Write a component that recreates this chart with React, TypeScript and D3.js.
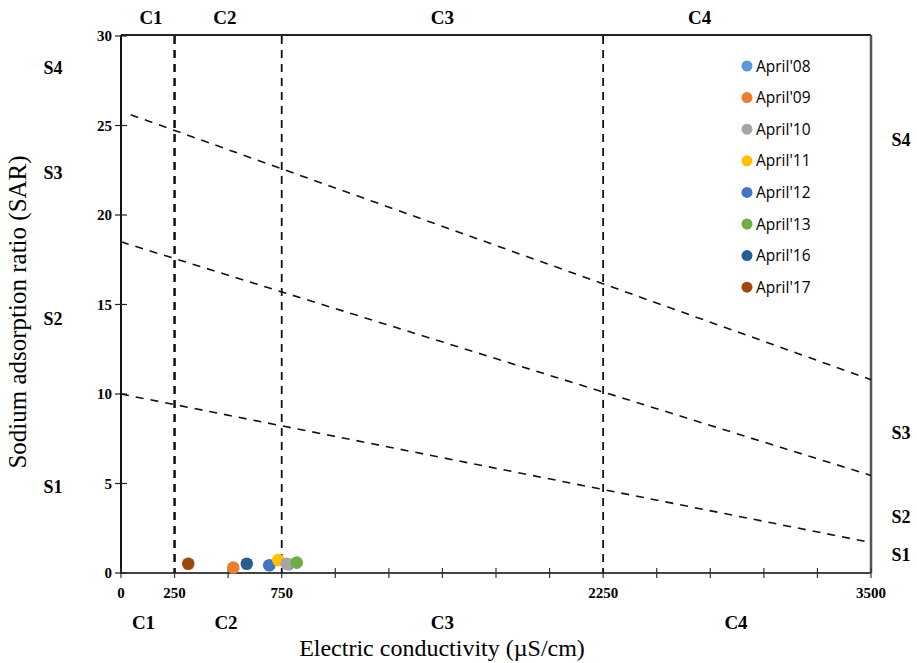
import React from "react";
import * as d3 from "d3";

const xTickValues = [0, 250, 750, 2250, 3500];
const xMinorTicks = d3.range(0, 3501, 250);
const yTickValues = [0, 5, 10, 15, 20, 25, 30];
const classBoundsEC = [250, 750, 2250];

const seriesNames = ["April'08", "April'09", "April'10", "April'11", "April'12", "April'13", "April'16", "April'17"];
const seriesColors = ["#5B9BD5", "#ED7D31", "#A5A5A5", "#FFC000", "#4472C4", "#70AD47", "#255E91", "#9E480E"];
const seriesEC = [781, 524, 773, 734, 692, 820, 587, 314];
const seriesSAR = [0.49, 0.3, 0.52, 0.73, 0.43, 0.58, 0.52, 0.52];
const drawOrder = [0, 1, 6, 4, 3, 2, 5, 7];

// S-class boundary lines: [ec1, sar1, ec2, sar2]
const boundaryLines = [
  [45, 25.6, 3500, 10.8],
  [0, 18.5, 3500, 5.45],
  [0, 10.0, 3500, 1.7],
];

const topCLabels = [
  { t: "C1", ec: 140 },
  { t: "C2", ec: 485 },
  { t: "C3", ec: 1500 },
  { t: "C4", ec: 2700 },
];
const bottomCLabels = [
  { t: "C1", ec: 105 },
  { t: "C2", ec: 490 },
  { t: "C3", ec: 1500 },
  { t: "C4", ec: 2870 },
];
const leftSLabels = [
  { t: "S4", y: 68 },
  { t: "S3", y: 173 },
  { t: "S2", y: 319 },
  { t: "S1", y: 487 },
];
const rightSLabels = [
  { t: "S4", y: 140 },
  { t: "S3", y: 433 },
  { t: "S2", y: 517 },
  { t: "S1", y: 555 },
];

export default function App() {
  const W = 917, H = 663;
  const x = d3.scaleLinear().domain([0, 3500]).range([121, 871]);
  const y = d3.scaleLinear().domain([0, 30]).range([573, 36]);
  const serif = "'Liberation Serif', 'Times New Roman', serif";
  const line = d3.line<[number, number]>().x(d => x(d[0])).y(d => y(d[1]));

  return (
    <svg width={W} height={H} style={{ position: "absolute", left: 0, top: 0, background: "#fff" }}>
      {/* frame */}
      <line x1={x(0)} x2={x(3500)} y1={y(30) - 1} y2={y(30) - 1} stroke="#222" strokeWidth={2} />
      <line x1={x(3500)} x2={x(3500)} y1={y(30) - 1} y2={y(0)} stroke="#555" strokeWidth={2.5} />
      <line x1={x(0)} x2={x(0)} y1={y(30) - 1} y2={y(0) + 1} stroke="#111" strokeWidth={2} />
      <line x1={x(0)} x2={x(3500)} y1={y(0)} y2={y(0)} stroke="#444" strokeWidth={2} />

      {/* bottom ticks */}
      {xMinorTicks.map(v => (
        <line key={"xt" + v} x1={x(v)} x2={x(v)} y1={y(0) - 5} y2={y(0) + 5} stroke="#333" strokeWidth={1.2} />
      ))}
      {/* top ticks */}
      {classBoundsEC.map(v => (
        <line key={"tt" + v} x1={x(v)} x2={x(v)} y1={y(30) - 1} y2={y(30) + 4} stroke="#333" strokeWidth={1.2} />
      ))}
      {/* y ticks */}
      {yTickValues.map(v => (
        <line key={"yt" + v} x1={x(0) - 6} x2={x(0) + 6} y1={y(v)} y2={y(v)} stroke="#222" strokeWidth={1.2} />
      ))}

      {/* vertical class boundaries */}
      {classBoundsEC.map(v => (
        <line key={"vb" + v} x1={x(v)} x2={x(v)} y1={y(30)} y2={y(0)} stroke="#111" strokeWidth={v === 250 ? 2.5 : 1.8} strokeDasharray="8,6" />
      ))}

      {/* diagonal boundaries */}
      {boundaryLines.map((b, i) => (
        <path key={"bl" + i} d={line([[b[0], b[1]], [b[2], b[3]]]) || ""} fill="none" stroke="#111" strokeWidth={1.6} strokeDasharray="8,7" />
      ))}

      {/* tick labels */}
      {xTickValues.map(v => (
        <text key={"xl" + v} x={x(v)} y={598} textAnchor="middle" fontFamily={serif} fontWeight="bold" fontSize={15}>{v}</text>
      ))}
      {yTickValues.map(v => (
        <text key={"yl" + v} x={x(0) - 9} y={y(v) + 5} textAnchor="end" fontFamily={serif} fontWeight="bold" fontSize={15}>{v}</text>
      ))}

      {/* class labels */}
      {topCLabels.map(c => (
        <text key={"tc" + c.t} x={x(c.ec)} y={24} textAnchor="middle" fontFamily={serif} fontWeight="bold" fontSize={19}>{c.t}</text>
      ))}
      {bottomCLabels.map(c => (
        <text key={"bc" + c.t} x={x(c.ec)} y={629} textAnchor="middle" fontFamily={serif} fontWeight="bold" fontSize={19}>{c.t}</text>
      ))}
      {leftSLabels.map(s => (
        <text key={"ls" + s.t} x={53} y={s.y + 6} textAnchor="middle" fontFamily={serif} fontWeight="bold" fontSize={18}>{s.t}</text>
      ))}
      {rightSLabels.map(s => (
        <text key={"rs" + s.t} x={901} y={s.y + 6} textAnchor="middle" fontFamily={serif} fontWeight="bold" fontSize={18}>{s.t}</text>
      ))}

      {/* axis titles */}
      <text x={442} y={656} textAnchor="middle" fontFamily={serif} fontSize={24}>Electric conductivity (µS/cm)</text>
      <text transform="translate(26,312) rotate(-90)" textAnchor="middle" fontFamily={serif} fontSize={25}>Sodium adsorption ratio (SAR)</text>

      {/* points */}
      {drawOrder.map(i => (
        <circle key={"pt" + i} cx={x(seriesEC[i])} cy={y(seriesSAR[i])} r={6.3} fill={seriesColors[i]} />
      ))}

      {/* legend */}
      {seriesNames.map((n, i) => (
        <g key={"lg" + i} transform={`translate(747,${66 + i * 31.6})`}>
          <circle cx={0} cy={0} r={5.5} fill={seriesColors[i]} />
          <text x={9} y={5.5} fontFamily="'Open Sans', 'Noto Sans', sans-serif" fontSize={15.5}>{n}</text>
        </g>
      ))}
    </svg>
  );
}
